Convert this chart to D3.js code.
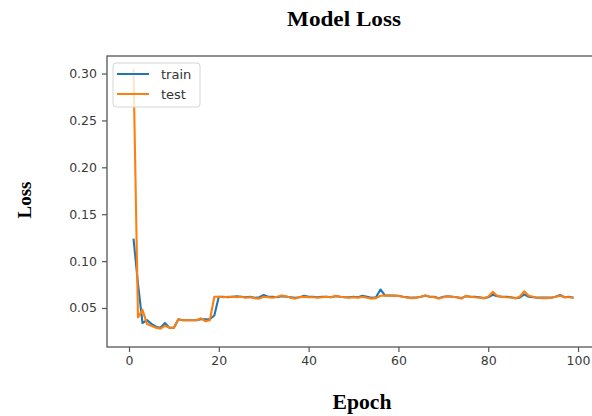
<!DOCTYPE html>
<html>
<head>
<meta charset="utf-8">
<script src="https://cdn.jsdelivr.net/npm/d3@7"></script>
<style>
    body { margin: 0; background: #ffffff; }
    svg { display: block; }
</style>
</head>
<body>
<div id="chart"></div>
<script>
// loss per epoch, epochs start at 1
var trainLoss = [
    0.124, 0.076, 0.034, 0.037, 0.033, 0.030, 0.029, 0.034, 0.029, 0.029,
    0.038, 0.037, 0.037, 0.037, 0.037, 0.038, 0.038, 0.038, 0.042, 0.062,
    0.062, 0.0615, 0.062, 0.0625, 0.062, 0.0615, 0.062, 0.061, 0.0615, 0.0638,
    0.062, 0.062, 0.0615, 0.0625, 0.062, 0.0615, 0.061, 0.0615, 0.063, 0.062,
    0.062, 0.0615, 0.062, 0.062, 0.0615, 0.0625, 0.062, 0.0615, 0.0615, 0.062,
    0.0615, 0.063, 0.062, 0.061, 0.0615, 0.0697, 0.0635, 0.0633, 0.0632, 0.063,
    0.062, 0.0615, 0.061, 0.0612, 0.062, 0.0632, 0.062, 0.062, 0.0605, 0.062,
    0.0625, 0.062, 0.0615, 0.0605, 0.0625, 0.062, 0.062, 0.0615, 0.0605, 0.0615,
    0.064, 0.0625, 0.062, 0.062, 0.0615, 0.0605, 0.061, 0.0645, 0.062, 0.0615,
    0.061, 0.061, 0.061, 0.061, 0.062, 0.0638, 0.0615, 0.062, 0.061
]
var testLoss = [
    0.305, 0.040, 0.048, 0.033, 0.031, 0.029, 0.028, 0.031, 0.029, 0.029,
    0.038, 0.037, 0.037, 0.037, 0.037, 0.039, 0.036, 0.037, 0.062, 0.062,
    0.0615, 0.062, 0.062, 0.0615, 0.062, 0.061, 0.0615, 0.0605, 0.060, 0.062,
    0.0615, 0.061, 0.062, 0.0633, 0.0625, 0.061, 0.060, 0.0615, 0.062, 0.0615,
    0.0615, 0.061, 0.0615, 0.062, 0.0615, 0.063, 0.062, 0.0615, 0.061, 0.0615,
    0.061, 0.062, 0.061, 0.060, 0.0605, 0.063, 0.0632, 0.0632, 0.063, 0.0628,
    0.062, 0.061, 0.0605, 0.061, 0.062, 0.0634, 0.062, 0.0615, 0.060, 0.0615,
    0.0626, 0.062, 0.0615, 0.060, 0.063, 0.062, 0.0615, 0.061, 0.0605, 0.062,
    0.0672, 0.063, 0.062, 0.0615, 0.0612, 0.0605, 0.062, 0.0678, 0.063, 0.062,
    0.061, 0.0605, 0.0605, 0.061, 0.062, 0.063, 0.0615, 0.0615, 0.061
]
var seriesNames = ['train', 'test']
var seriesColors = ['#1f77b4', '#ff7f0e']
var xTicks = [0, 20, 40, 60, 80, 100]
var yTicks = [0.05, 0.10, 0.15, 0.20, 0.25, 0.30]
var titleText = 'Model Loss'
var xLabelText = 'Epoch'
var yLabelText = 'Loss'

var chart = (function(){

    var _svg = null
    var _width = 592
    var _height = 416
    var _plot = { left: 107, right: 596, top: 56, bottom: 347 }

    function toPoints(values){
        var result = []
        for(var i = 0; i < values.length; i++){
            result.push({ epoch: i + 1, loss: values[i] })
        }
        return result
    }

    function drawAxes(x, y){
        var xAxis = d3.axisBottom(x)
            .tickValues(xTicks)
            .tickSize(5)
            .tickPadding(4)
            .tickFormat(d3.format('d'))

        var yAxis = d3.axisLeft(y)
            .tickValues(yTicks)
            .tickSize(5)
            .tickPadding(5)
            .tickFormat(d3.format('.2f'))

        var gx = _svg.append('g')
            .attr('transform', 'translate(0,' + _plot.bottom + ')')
            .call(xAxis)

        var gy = _svg.append('g')
            .attr('transform', 'translate(' + _plot.left + ',0)')
            .call(yAxis)

        ;[gx, gy].forEach(function(g){
            g.select('.domain').remove()
            g.selectAll('line').attr('stroke', '#555').attr('stroke-width', 1.2)
            g.selectAll('text')
                .attr('fill', '#3a3a3a')
                .attr('font-family', '"DejaVu Sans", sans-serif')
                .attr('font-size', 12.5)
        })

        // frame
        _svg.append('rect')
            .attr('x', _plot.left)
            .attr('y', _plot.top)
            .attr('width', _plot.right - _plot.left)
            .attr('height', _plot.bottom - _plot.top)
            .attr('fill', 'none')
            .attr('stroke', '#555')
            .attr('stroke-width', 1.3)
    }

    function drawLines(x, y){
        var line = d3.line()
            .x(function(d){ return x(d.epoch) })
            .y(function(d){ return y(d.loss) })

        var all = [trainLoss, testLoss]
        for(var i = 0; i < all.length; i++){
            _svg.append('path')
                .datum(toPoints(all[i]))
                .attr('d', line)
                .attr('fill', 'none')
                .attr('stroke', seriesColors[i])
                .attr('stroke-width', 2.1)
                .attr('stroke-linejoin', 'round')
        }
    }

    function drawLegend(){
        var lx = 113
        var ly = 63
        _svg.append('rect')
            .attr('x', lx)
            .attr('y', ly)
            .attr('width', 87)
            .attr('height', 44)
            .attr('rx', 3)
            .attr('fill', 'rgba(255,255,255,0.8)')
            .attr('stroke', '#d6d6d6')

        for(var i = 0; i < seriesNames.length; i++){
            var rowY = ly + 11 + i * 20
            _svg.append('line')
                .attr('x1', lx + 4)
                .attr('x2', lx + 36)
                .attr('y1', rowY)
                .attr('y2', rowY)
                .attr('stroke', seriesColors[i])
                .attr('stroke-width', 2)

            _svg.append('text')
                .attr('x', lx + 48)
                .attr('y', rowY + 4.5)
                .attr('font-family', '"DejaVu Sans", sans-serif')
                .attr('font-size', 13)
                .attr('fill', '#333')
                .text(seriesNames[i])
        }
    }

    function drawLabels(){
        var serif = '"Liberation Serif", "DejaVu Serif", serif'

        _svg.append('text')
            .attr('x', 344)
            .attr('y', 26)
            .attr('text-anchor', 'middle')
            .attr('font-family', serif)
            .attr('font-weight', 'bold')
            .attr('font-size', 21)
            .attr('textLength', 114)
            .attr('lengthAdjust', 'spacingAndGlyphs')
            .attr('fill', '#000')
            .text(titleText)

        _svg.append('text')
            .attr('x', 362)
            .attr('y', 409)
            .attr('text-anchor', 'middle')
            .attr('font-family', serif)
            .attr('font-weight', 'bold')
            .attr('font-size', 20)
            .attr('textLength', 59)
            .attr('lengthAdjust', 'spacingAndGlyphs')
            .attr('fill', '#000')
            .text(xLabelText)

        _svg.append('text')
            .attr('transform', 'translate(31,200) rotate(-90)')
            .attr('text-anchor', 'middle')
            .attr('font-family', serif)
            .attr('font-weight', 'bold')
            .attr('font-size', 19)
            .attr('fill', '#000')
            .text(yLabelText)
    }

    return {
        create: function(elementId){
            _svg = d3.select('#' + elementId).append('svg')
                .attr('width', _width)
                .attr('height', _height)

            var x = d3.scaleLinear()
                .domain([-4.9, 104])
                .range([_plot.left, _plot.right])

            var y = d3.scaleLinear()
                .domain([0.0084, 0.3187])
                .range([_plot.bottom, _plot.top])

            drawAxes(x, y)
            drawLines(x, y)
            drawLegend()
            drawLabels()
        }
    }
})()

chart.create('chart')
</script>
</body>
</html>
